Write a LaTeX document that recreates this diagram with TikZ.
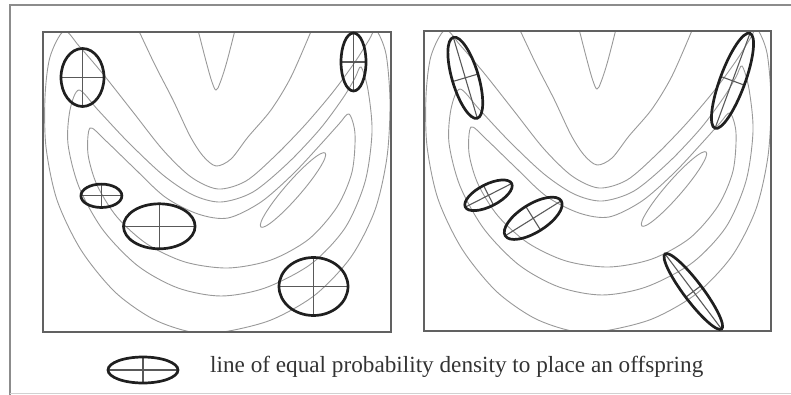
\documentclass[tikz,border=0pt]{standalone}
\usepackage{fontspec}
\setmainfont{Liberation Serif}
\newcommand\drawcontours{%
  \draw[contour] plot[smooth, tension=0.6] coordinates {(155,-2) (163.5,31) (169,50) (173,58) (177,51) (183.5,31) (192,-2)};
  \draw[contour] plot[smooth] coordinates {(95,-3) (112,33) (130,68) (147,104) (160,124) (173,134) (188,127) (205,105) (228,78) (248,45) (269,-3)};
  \draw[contour] plot[smooth cycle] coordinates {(21,-1) (36,14) (60,42) (90,80) (120,118) (148,145) (175,157) (203,149) (232,124) (262,93) (290,60) (312,30) (326,8) (333,-2) (343,22) (347,70) (344,125) (332,178) (308,225) (272,263) (228,288) (180,300) (148,300) (110,287) (72,260) (38,218) (14,168) (3,115) (2,65) (7,25)};
  \draw[contour] plot[smooth cycle] coordinates {(36,58) (55,78) (85,110) (120,143) (150,163) (178,170) (210,160) (245,131) (277,97) (300,66) (312,46) (318,35) (325,58) (329,100) (322,150) (302,196) (268,232) (222,256) (178,264) (135,256) (95,234) (60,198) (36,155) (25,112) (27,78)};
  \draw[contour] plot[smooth cycle] coordinates {(47,96) (62,108) (90,135) (122,165) (155,182) (185,186) (218,170) (250,142) (278,112) (296,92) (306,82) (312,102) (309,140) (294,175) (266,207) (228,228) (185,236) (142,230) (104,212) (74,185) (54,153) (45,122)};
  \draw[contour, rotate around={49:(250,158)}] (250,158) ellipse [x radius=49pt, y radius=8pt];
}
\newcommand\offspring[5]{% cx, cy, angle, a, b
  \begin{scope}[shift={(#1,#2)}, rotate=#3]
    \draw[cross] (-#4,0) -- (#4,0) (0,-#5) -- (0,#5);
    \draw[oval] (0,0) ellipse [x radius=#4pt, y radius=#5pt];
  \end{scope}}
\begin{document}
\begin{tikzpicture}[x=1pt, y=-1pt,
  contour/.style={draw=black!40, line width=0.9pt},
  panel/.style={draw=black!62, line width=1.3pt},
  oval/.style={draw=black!88, line width=2.7pt},
  cross/.style={draw=black!65, line width=1.1pt},
  outer/.style={draw=black!45, line width=1.1pt}]
\useasboundingbox (0,0) rectangle (791,395);
% outer frame
\draw[outer] (10,395) -- (10,5) -- (791,5);
\draw[draw=black!18, line width=1pt] (10,393.5) -- (791,393.5);
% left panel
\begin{scope}[shift={(43,32)}]
  \begin{scope}
    \clip (0,0) rectangle (348,300);
    \drawcontours
  \end{scope}
  \draw[panel] (0,0) rectangle (348,300);
\end{scope}
\offspring{82.5}{77.5}{0}{21.5}{29}
\offspring{353.5}{62}{0}{12.5}{29}
\offspring{101.4}{195.8}{0}{20.5}{11.7}
\offspring{159.3}{226.3}{0}{35.8}{22.5}
\offspring{313.5}{286.5}{0}{34.5}{29}
% right panel
\begin{scope}[shift={(424,31)}]
  \begin{scope}
    \clip (0,0) rectangle (347,300);
    \drawcontours
  \end{scope}
  \draw[panel] (0,0) rectangle (347,300);
\end{scope}
\offspring{465.3}{77.8}{106.5}{42.2}{13.2}
\offspring{732.5}{80.8}{69.8}{50.6}{12.5}
\offspring{488.5}{195.3}{27}{26}{11}
\offspring{533.2}{218.3}{32}{33}{14}
\offspring{693.3}{291.5}{127}{47}{9.5}
% legend
\offspring{143}{370}{0}{35}{13}
\node[anchor=base west, inner sep=0pt, font=\fontsize{23.2}{28}\selectfont, text=black!80] (legendtext) at (210,372) {line of equal probability density to place an offspring};
\end{tikzpicture}
\end{document}
